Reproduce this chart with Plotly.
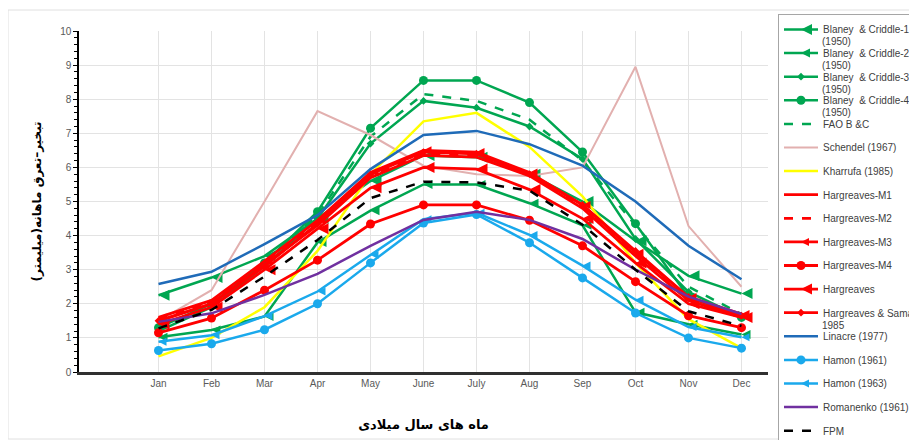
import plotly.graph_objects as go

months = ['Jan', 'Feb', 'Mar', 'Apr', 'May', 'June', 'July', 'Aug', 'Sep', 'Oct', 'Nov', 'Dec']

blaney1 = [2.25, 2.77, 3.4, 4.5, 5.6, 6.35, 6.3, 5.8, 5.0, 3.85, 2.82, 2.3]
blaney2 = [1.02, 1.23, 1.63, 3.8, 4.73, 5.5, 5.5, 4.95, 4.3, 1.75, 1.4, 1.1]
blaney3 = [1.2, 1.9, 3.1, 4.5, 6.7, 7.95, 7.75, 7.2, 6.25, 3.9, 2.35, 1.6]
blaney4 = [1.3, 2.0, 3.2, 4.7, 7.15, 8.55, 8.55, 7.9, 6.45, 4.35, 2.2, 1.6]
fao_bc = [1.3, 2.0, 3.2, 4.6, 6.9, 8.15, 7.95, 7.4, 6.2, 4.3, 2.5, 1.7]
schendel = [1.5, 2.4, 5.0, 7.65, 6.95, 6.05, 5.8, 5.75, 6.0, 8.95, 4.28, 2.5]
kharrufa = [0.46, 1.0, 1.9, 3.55, 5.8, 7.35, 7.6, 6.6, 5.15, 3.2, 1.55, 0.7]
harg_m1 = [1.5, 2.0, 3.15, 4.3, 5.7, 6.35, 6.3, 5.75, 4.8, 3.4, 2.1, 1.6]
harg_m2 = [1.55, 2.05, 3.2, 4.4, 5.75, 6.4, 6.35, 5.8, 4.85, 3.45, 2.15, 1.65]
harg_m3 = [1.6, 2.1, 3.25, 4.45, 5.85, 6.5, 6.45, 5.85, 4.9, 3.5, 2.2, 1.7]
harg_m4 = [1.15, 1.58, 2.4, 3.28, 4.34, 4.9, 4.9, 4.45, 3.7, 2.65, 1.65, 1.3]
harg = [1.4, 1.9, 3.0, 4.2, 5.4, 6.0, 5.95, 5.35, 4.5, 3.2, 2.0, 1.6]
harg_sam = [1.5, 2.0, 3.1, 4.35, 5.8, 6.45, 6.4, 5.8, 4.9, 3.55, 2.2, 1.65]
linacre = [2.58, 2.94, 3.75, 4.6, 5.95, 6.95, 7.07, 6.68, 6.05, 5.0, 3.7, 2.72]
hamon61 = [0.63, 0.83, 1.24, 2.0, 3.2, 4.37, 4.62, 3.79, 2.76, 1.73, 1.0, 0.7]
hamon63 = [0.89, 1.08, 1.64, 2.36, 3.43, 4.48, 4.67, 4.02, 3.12, 2.12, 1.32, 1.02]
romanenko = [1.47, 1.72, 2.26, 2.88, 3.7, 4.46, 4.7, 4.46, 3.9, 3.0, 2.21, 1.7]
fpm = [1.28, 1.82, 2.8, 3.87, 5.1, 5.58, 5.56, 5.32, 4.32, 3.0, 1.78, 1.35]

names = ['Blaney  & Criddle-1', 'Blaney  & Criddle-2', 'Blaney  & Criddle-3',
         'Blaney  & Criddle-4', 'FAO B &C', 'Schendel (1967)', 'Kharrufa (1985)',
         'Hargreaves-M1', 'Hargreaves-M2', 'Hargreaves-M3', 'Hargreaves-M4',
         'Hargreaves', 'Hargreaves & Samani', 'Linacre (1977)', 'Hamon (1961)',
         'Hamon (1963)', 'Romanenko (1961)', 'FPM']
# second lines of the wrapped legend labels
name_second_line = {0: '(1950)', 1: '(1950)', 2: '(1950)', 3: '(1950)', 12: '1985'}

GREEN = '#00A651'
RED = '#FF0000'

values = [blaney1, blaney2, blaney3, blaney4, fao_bc, schendel, kharrufa, harg_m1, harg_m2,
          harg_m3, harg_m4, harg, harg_sam, linacre, hamon61, hamon63, romanenko, fpm]
styles = [
    (GREEN, 'solid', 'arrow-left', 11, 2.5),
    (GREEN, 'solid', 'arrow-left', 9, 2.5),
    (GREEN, 'solid', 'diamond', 6, 2.5),
    (GREEN, 'solid', 'circle', 9, 2.5),
    (GREEN, 'dash', None, 0, 2.5),
    ('#E2B0AF', 'solid', None, 0, 2),
    ('#FFFF00', 'solid', None, 0, 2.5),
    (RED, 'solid', None, 0, 2.8),
    (RED, 'dash', None, 0, 2.8),
    (RED, 'solid', 'arrow-left', 8, 2.8),
    (RED, 'solid', 'circle', 9, 2.8),
    (RED, 'solid', 'arrow-left', 11, 2.8),
    (RED, 'solid', 'diamond', 6, 2.8),
    ('#1F6BB8', 'solid', None, 0, 2.5),
    ('#1AA9EC', 'solid', 'circle', 9, 2.5),
    ('#1AA9EC', 'solid', 'arrow-left', 8, 2.5),
    ('#7030A0', 'solid', None, 0, 2.5),
    ('#000000', 'dash', None, 0, 2.5),
]

# figure geometry (the page body adds an 8px offset)
W, H = 909, 432
L, R, T, B = 71, 149, 23, 68
PW, PH = W - L - R, H - T - B

fig = go.Figure()
for i, (name, vals, (color, dash, sym, size, width)) in enumerate(zip(names, values, styles)):
    mode = 'lines+markers' if sym else 'lines'
    kw = dict(marker=dict(symbol=sym, size=size, color=color, line=dict(width=0))) if sym else {}
    fig.add_trace(go.Scatter(
        x=months, y=vals, name=name, mode=mode, legendgroup=str(i),
        line=dict(color=color, width=width, dash=dash), **kw))

legend_top_rel = 6          # px from top of figure
first_item_rel = legend_top_rel + 16
item_step = 23.6
annotations = []
for k, txt in name_second_line.items():
    yrel = first_item_rel + k * item_step + 12
    annotations.append(dict(
        text=txt, xref='paper', yref='paper', x=(812 - L) / PW, y=(T + PH - yrel) / PH,
        xanchor='left', yanchor='middle', showarrow=False,
        font=dict(family='Liberation Sans', size=10, color='#404040')))

fig.update_layout(
    width=W, height=H,
    margin=dict(l=L, r=R, t=T, b=B, autoexpand=False),
    paper_bgcolor='white', plot_bgcolor='white',
    font=dict(family='Liberation Sans', size=10, color='#595959'),
    showlegend=True,
    legend=dict(x=(770 - L) / PW, xref='paper', y=1 - legend_top_rel / H, yref='container',
                xanchor='left', yanchor='top', maxheight=H,
                bordercolor='#A6A6A6', borderwidth=1, bgcolor='white',
                font=dict(family='Liberation Sans', size=10, color='#404040'),
                tracegroupgap=4.6, itemwidth=34),
    annotations=annotations,
    shapes=[dict(type='rect', xref='paper', yref='paper', x0=(0 - L) / PW, x1=(907 - L) / PW,
                 y0=(T + PH - 431) / PH, y1=(T + PH - 2) / PH,
                 line=dict(color='#E0E0E0', width=1), layer='below')],
)
fig.update_xaxes(
    type='category', range=[-1.5, 11.5], showgrid=True, gridcolor='#E3E3E3', gridwidth=1,
    showline=True, linecolor='#303030', linewidth=2.5, ticks='',
    tickfont=dict(size=10, color='#595959'),
    title=dict(text='ماه های سال میلادی', standoff=33,
               font=dict(family='DejaVu Sans', size=13, color='#000000', weight='bold')),
)
fig.update_yaxes(
    range=[0, 10], dtick=1, showgrid=True, gridcolor='#E3E3E3', gridwidth=1,
    showline=True, linecolor='#000000', linewidth=1.5, ticks='outside', ticklen=4,
    tickcolor='#000000', zeroline=False,
    minor=dict(ticks='outside', dtick=0.2, ticklen=3, tickcolor='#000000', showgrid=False),
    tickfont=dict(size=10, color='#595959'),
    title=dict(text='تبخیر–تعرق ماهانه(میلیمتر)', standoff=16,
               font=dict(family='DejaVu Sans', size=12, color='#000000', weight='bold')),
)

fig.write_html('out.html')
